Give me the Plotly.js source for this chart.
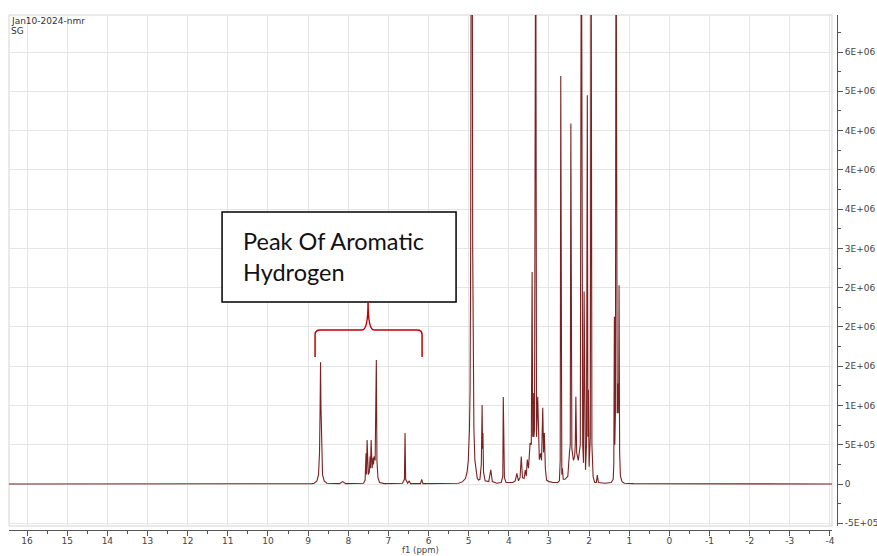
<!DOCTYPE html>
<html>
<head>
<meta charset="utf-8">
<script src="https://cdn.plot.ly/plotly-3.0.1.min.js"></script>
<style>html,body{margin:0;padding:0;background:#fff;}#chart{width:877px;height:556px;}</style>
</head>
<body>
<div id="chart"></div>
<script>
// chemical shift (ppm) and intensity (millions)
const ppm = [16.45,10.0,8.90,8.85,8.78,8.74,8.715,8.70,8.69,8.68,8.665,8.64,8.60,8.53,8.22,8.14,8.06,
 7.62,7.58,7.556,7.545,7.53,7.50,7.475,7.456,7.445,7.43,7.405,7.38,7.37,7.36,7.33,7.30,7.285,7.26,7.22,7.10,
 6.65,6.60,6.585,6.57,6.52,6.48,6.45,6.20,6.17,6.14,
 5.40,5.25,5.15,5.08,5.04,5.01,4.98,4.965,4.95,4.94,4.925,4.91,4.90,4.885,4.87,4.845,4.815,4.785,4.755,
 4.72,4.685,4.665,4.655,4.645,4.63,4.59,4.50,4.45,4.41,4.30,4.19,4.15,4.138,4.13,4.122,4.11,4.07,
 3.90,3.84,3.80,3.76,3.72,3.69,3.66,3.62,3.59,3.565,3.54,3.51,3.47,3.44,3.42,3.405,3.39,3.375,3.36,3.33,3.31,
 3.28,3.26,3.24,3.21,3.185,3.155,3.135,3.115,3.09,3.06,3.00,2.90,
 2.78,2.74,2.72,2.706,2.69,2.68,2.666,2.645,2.60,2.53,2.49,2.47,2.455,2.445,2.43,2.39,2.36,2.345,2.33,2.31,2.27,
 2.22,2.193,2.16,2.14,2.125,2.10,2.09,2.065,2.045,2.03,2.018,2.00,1.97,1.951,1.93,1.90,1.86,1.82,1.795,1.77,1.60,
 1.45,1.40,1.385,1.371,1.36,1.345,1.329,1.315,1.30,1.29,1.275,1.262,1.254,1.24,1.22,1.18,1.12,0.90,-4.05];
const intensity = [0,0,0.005,0.01,0.04,0.12,0.4,1.0,1.55,1.0,0.4,0.12,0.04,0.01,0.005,0.03,0.005,
 0.01,0.05,0.39,0.12,0.56,0.12,0.15,0.35,0.2,0.56,0.2,0.33,0.25,0.35,0.3,1.58,0.3,0.08,0.02,0.005,
 0.01,0.06,0.65,0.06,0.01,0.04,0.005,0.005,0.06,0.005,
 0.005,0.01,0.03,0.07,0.15,0.3,0.7,1.2,3,7,12,7,3,1.2,0.7,0.3,0.15,0.07,0.05,
 0.06,0.25,1.006,0.45,0.65,0.15,0.04,0.03,0.18,0.03,0.01,0.02,0.1,1.108,0.3,0.37,0.08,0.02,
 0.02,0.04,0.136,0.04,0.08,0.35,0.08,0.07,0.178,0.1,0.31,0.2,0.52,0.5,2.70,0.6,1.16,0.6,0.7,8.0,0.6,
 1.11,0.4,0.31,0.39,0.3,0.97,0.4,0.65,0.2,0.05,0.03,0.02,
 0.02,0.04,0.3,5.195,0.3,0.12,0.2,0.06,0.06,0.1,0.4,0.5,4.59,2.26,0.45,0.3,0.35,0.5,1.11,0.4,0.3,
 0.5,8.0,0.5,0.27,2.45,0.3,0.18,0.5,4.95,0.6,1.2,0.22,0.6,8.0,0.5,0.09,0.02,0.02,0.115,0.02,0.01,
 0.02,0.06,0.25,2.13,0.5,0.9,8.0,1.28,0.9,1.28,0.9,1.28,2.53,0.4,0.1,0.03,0.01,0.005,0];

const xTickVals = [16,15,14,13,12,11,10,9,8,7,6,5,4,3,2,1,0,-1,-2,-3,-4];
const xTickText = ['16','15','14','13','12','11','10','9','8','7','6','5','4','3','2','1','0','-1','-2','-3','-4'];
const xMinorVals = [15.5,14.5,13.5,12.5,11.5,10.5,9.5,8.5,7.5,6.5,5.5,4.5,3.5,2.5,1.5,0.5,-0.5,-1.5,-2.5,-3.5];
const yTickVals = [-0.5,0,0.5,1.0,1.5,2.0,2.5,3.0,3.5,4.0,4.5,5.0,5.5];
const yTickText = ['-5E+05','0','5E+05','1E+06','2E+06','2E+06','2E+06','3E+06','4E+06','4E+06','4E+06','5E+06','6E+06'];
const yMinorVals = [-0.25,0.25,0.75,1.25,1.75,2.25,2.75,3.25,3.75,4.25,4.75,5.25,5.75];

const trace = {
  x: ppm, y: intensity, type: 'scatter', mode: 'lines',
  line: {color: '#7a2222', width: 1.1}, hoverinfo: 'skip'
};

const tickFont = {family: 'DejaVu Sans', size: 9, color: '#444'};

const layout = {
  width: 877, height: 556,
  margin: {l: 9, r: 40, t: 15, b: 26, pad: 0},
  paper_bgcolor: '#fff', plot_bgcolor: '#fff',
  showlegend: false,
  xaxis: {
    domain: [0, 0.99396], anchor: 'free', position: 0,
    range: [16.45, -4.05], tickmode: 'array', tickvals: xTickVals, ticktext: xTickText,
    ticks: 'outside', ticklen: 5, tickcolor: '#555', tickwidth: 1,
    ticklabelstandoff: -3,
    showline: true, linecolor: '#555', linewidth: 1,
    showgrid: true, gridcolor: '#e5e5e5', gridwidth: 1, zeroline: false,
    tickfont: tickFont,
    minor: {tickmode: 'array', tickvals: xMinorVals, ticks: 'outside', ticklen: 3, tickcolor: '#555', showgrid: false}
  },
  yaxis: {
    domain: [0.00777, 1], anchor: 'free', position: 1, side: 'right',
    range: [-0.5347, 5.971], tickmode: 'array', tickvals: yTickVals, ticktext: yTickText,
    ticks: 'outside', ticklen: 5, tickcolor: '#555', tickwidth: 1,
    showline: true, linecolor: '#555', linewidth: 1,
    showgrid: true, gridcolor: '#e5e5e5', gridwidth: 1, zeroline: false,
    tickfont: tickFont,
    minor: {tickmode: 'array', tickvals: yMinorVals, ticks: 'outside', ticklen: 3, tickcolor: '#555', showgrid: false}
  },
  shapes: [
    {type: 'rect', xref: 'x domain', yref: 'y domain', x0: 0, x1: 1, y0: 0, y1: 1,
     line: {color: '#d4d4d4', width: 1}, layer: 'below'},
    {type: 'rect', xref: 'x', yref: 'y', x0: 11.143, x1: 5.314, y0: 2.317, y1: 3.463,
     fillcolor: '#ffffff', line: {color: '#000', width: 1.5}, layer: 'above'},
    {type: 'path', xref: 'x', yref: 'y', layer: 'above',
     path: 'M 8.826 1.617 L 8.826 1.90 Q 8.826 1.961 8.70 1.961 L 7.655 1.961 Q 7.506 1.961 7.506 2.317 Q 7.506 1.961 7.357 1.961 L 6.285 1.961 Q 6.161 1.961 6.161 1.90 L 6.161 1.617',
     line: {color: '#c00000', width: 1.5}}
  ],
  annotations: [
    {xref: 'paper', yref: 'paper', x: 0, y: 0.9883, xanchor: 'left', yanchor: 'middle', showarrow: false,
     text: 'Jan10-2024-nmr', font: {family: 'DejaVu Sans', size: 9, color: '#333'}},
    {xref: 'paper', yref: 'paper', x: 0, y: 0.969, xanchor: 'left', yanchor: 'middle', showarrow: false,
     text: 'SG', font: {family: 'DejaVu Sans', size: 9, color: '#333'}},
    {xref: 'x', yref: 'y', x: 10.67, y: 3.100, xanchor: 'left', yanchor: 'middle', showarrow: false,
     text: 'Peak Of Aromatic', font: {family: 'Lato', size: 23.5, color: '#111'}},
    {xref: 'x', yref: 'y', x: 10.67, y: 2.699, xanchor: 'left', yanchor: 'middle', showarrow: false,
     text: 'Hydrogen', font: {family: 'Lato', size: 23.5, color: '#111'}},
    {xref: 'paper', yref: 'paper', x: 0.497, y: -0.0500, xanchor: 'center', yanchor: 'bottom', showarrow: false,
     borderpad: 0, text: 'f1 (ppm)', font: {family: 'DejaVu Sans', size: 8.5, color: '#444'}}
  ]
};

Plotly.newPlot('chart', [trace], layout, {displayModeBar: false, staticPlot: true});
</script>
</body>
</html>
